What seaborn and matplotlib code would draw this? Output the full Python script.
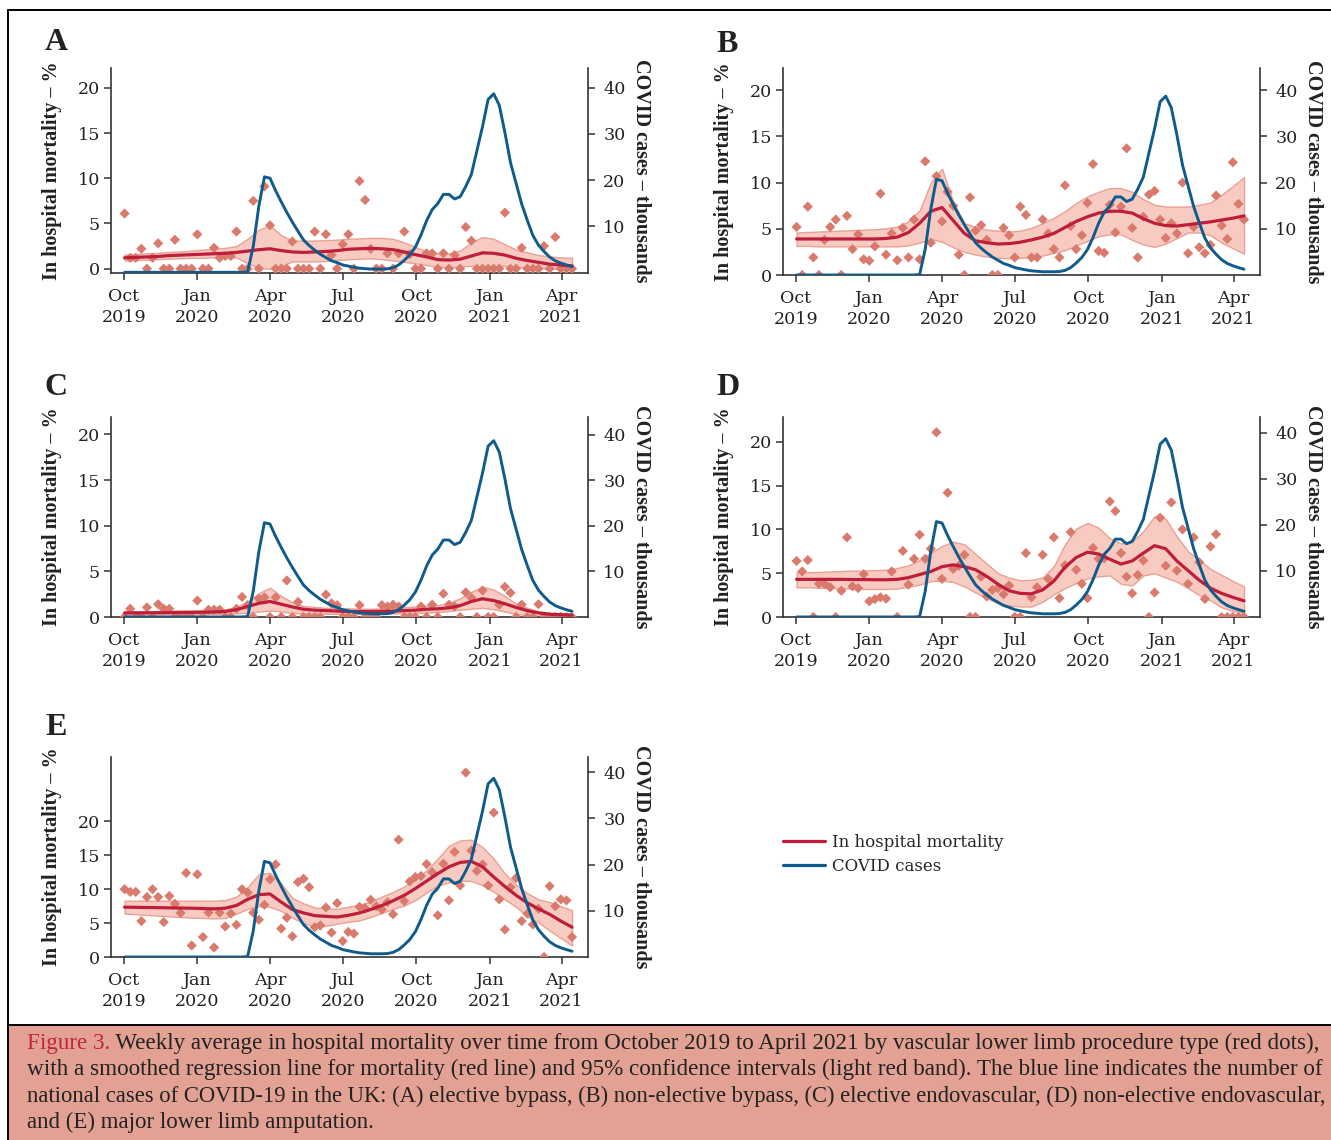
import numpy as np
import pandas as pd
import matplotlib
matplotlib.use("Agg")
import matplotlib.pyplot as plt
import seaborn as sns
from matplotlib.lines import Line2D
from matplotlib.patches import Rectangle

sns.set_theme(style="ticks")
plt.rcParams["font.family"] = ["DejaVu Serif"]

# ---------------- data ----------------
week_dates = pd.date_range("2019-10-02", periods=81, freq="7D")
fit_dates = pd.date_range("2019-10-02", periods=41, freq="14D")

covid_thousands = [0] * 22 + [0.1, 5.6, 14.3, 20.7, 20.4, 17.7, 15.3, 13.0, 10.9, 8.9,
                              7.0, 5.8, 4.8, 3.9, 3.2, 2.5, 2.1, 1.6, 1.35, 1.1,
                              0.9, 0.8, 0.7, 0.7, 0.7, 0.75, 1.0, 1.6, 2.6, 3.8,
                              5.5, 8.1, 11.2, 13.6, 14.9, 16.9, 16.9, 15.9, 16.4, 18.6,
                              21.2, 26.4, 31.6, 37.5, 38.7, 36.2, 30.3, 23.8, 19.3, 14.8,
                              11.3, 8.0, 5.9, 4.5, 3.3, 2.5, 2.0, 1.6, 1.25]

A_points = [6.1, 1.2, 1.2, 2.2, 0, 1.2, 2.8, 0, 0, 3.2,
            0, 0, 0, 3.8, 0, 0, 2.3, 1.2, 1.4, 1.4,
            4.1, 0, 0, 7.5, 0, 9.1, 4.8, 0, 0, 0,
            3.0, 0, 0, 0, 4.1, 0, 3.8, 1.5, 0, 2.7,
            3.8, 0, 9.7, 7.6, 2.2, 0, 0, 1.7, 0, 1.7,
            4.1, 1.6, 0, 0, 1.7, 1.7, 0, 1.7, 0, 1.5,
            0, 4.6, 3.1, 0, 0, 0, 0, 0, 6.2, 0,
            0, 2.3, 0, 0, 0, 2.5, 0, 3.5, 0, 0, 0]
A_fit = [1.2, 1.25, 1.3, 1.35, 1.45, 1.5, 1.55, 1.6, 1.65, 1.7,
         1.8, 1.95, 2.1, 2.2, 2.0, 1.85, 1.8, 1.85, 1.9, 2.0,
         2.15, 2.2, 2.25, 2.2, 2.1, 1.85, 1.55, 1.3, 1.0, 0.95,
         1.05, 1.4, 1.75, 1.7, 1.5, 1.15, 0.9, 0.7, 0.5, 0.4, 0.3]
A_upper = [1.55, 1.6, 1.7, 1.75, 1.85, 1.9, 2.0, 2.1, 2.2, 2.3,
           2.5, 3.3, 4.3, 4.8, 3.7, 3.1, 3.1, 3.1, 3.15, 3.2,
           3.3, 3.35, 3.4, 3.4, 3.3, 2.9, 2.4, 1.9, 1.7, 1.7,
           2.0, 2.9, 3.5, 3.3, 2.7, 2.1, 1.8, 1.5, 1.35, 1.25, 1.2]
A_lower = [0.9, 0.95, 1.0, 1.05, 1.1, 1.15, 1.2, 1.2, 1.25, 1.3,
           1.25, 0.6, 0.1, 0.0, 0.3, 0.8, 0.8, 0.8, 0.85, 0.95,
           1.05, 1.1, 1.15, 1.05, 0.9, 0.75, 0.6, 0.4, 0.2, 0.15,
           0.25, 0.3, 0.25, 0.3, 0.3, 0.2, 0.1, 0.05, 0.0, 0.0, -0.05]

B_points = [5.2, 0, 7.4, 1.9, 0, 3.8, 5.2, 6.0, 0, 6.4,
            2.8, 4.4, 1.7, 1.55, 3.1, 8.8, 2.2, 4.5, 1.6, 5.1,
            1.9, 6.0, 1.7, 12.3, 3.5, 10.7, 5.8, 9.0, 7.5, 2.2,
            0, 8.4, 4.8, 5.4, 3.8, 0, 0, 5.1, 4.3, 1.9,
            7.4, 6.5, 1.9, 1.9, 6.0, 4.5, 2.8, 1.9, 9.7, 5.3,
            2.8, 4.3, 7.8, 12.0, 2.6, 2.4, 7.6, 4.6, 7.4, 13.7,
            5.1, 1.9, 6.3, 8.7, 9.1, 6.0, 4.0, 5.6, 4.5, 10.0,
            2.35, 5.2, 3.0, 2.35, 3.25, 8.6, 5.35, 3.9, 12.2, 7.7, 6.0]
B_fit = [3.9, 3.9, 3.9, 3.9, 3.9, 3.9, 3.9, 3.9, 3.95, 4.1,
         4.6, 5.6, 6.9, 7.3, 5.9, 4.5, 3.7, 3.5, 3.35, 3.4,
         3.55, 3.8, 4.1, 4.5, 5.15, 5.8, 6.3, 6.7, 6.9, 6.9,
         6.7, 6.1, 5.6, 5.35, 5.3, 5.45, 5.6, 5.75, 5.95, 6.15, 6.4]
B_upper = [4.6, 4.65, 4.7, 4.75, 4.8, 4.85, 4.9, 4.95, 5.05, 5.25,
           5.8, 7.0, 10.0, 11.5, 7.9, 5.6, 5.2, 4.9, 4.8, 4.7,
           4.8, 5.1, 5.6, 6.2, 6.9, 7.8, 8.5, 9.0, 9.4, 9.4,
           9.0, 8.2, 7.6, 7.4, 7.4, 7.4, 7.6, 7.85, 8.7, 9.6, 10.6]
B_lower = [3.15, 3.15, 3.1, 3.1, 3.1, 3.1, 3.1, 3.1, 3.1, 3.1,
           3.2, 3.5, 3.9, 3.6, 3.0, 2.5, 2.2, 2.0, 1.85, 1.8,
           1.85, 1.95, 2.1, 2.4, 2.7, 3.2, 3.7, 4.2, 4.4, 4.4,
           3.8, 3.3, 3.05, 3.4, 4.0, 4.6, 4.6, 4.3, 3.5, 2.9, 2.3]

C_points = [0, 0.9, 0, 0, 1.05, 0, 1.4, 0.9, 0.9, 0,
            0, 0, 0, 1.8, 0, 0.8, 0.8, 0.8, 0, 0,
            0.9, 2.2, 1.3, 0, 2.0, 2.15, 0, 2.15, 0, 4.0,
            0, 1.65, 0, 0, 0, 0, 2.45, 1.5, 1.3, 0,
            0, 0, 1.3, 0, 0, 0, 1.3, 1.15, 1.35, 1.15,
            0, 0, 0, 1.15, 0, 1.35, 0, 2.55, 1.35, 1.15,
            0, 2.7, 2.1, 0, 2.9, 0, 0, 1.35, 3.3, 2.65,
            0, 1.35, 0, 0, 1.4, 0, 0, 0, 0, 0, 0]
C_fit = [0.45, 0.45, 0.46, 0.47, 0.48, 0.5, 0.5, 0.52, 0.55, 0.6,
         0.8, 1.15, 1.5, 1.7, 1.4, 1.1, 0.85, 0.75, 0.7, 0.65,
         0.6, 0.6, 0.6, 0.62, 0.65, 0.7, 0.75, 0.85, 0.9, 1.0,
         1.25, 1.7, 2.0, 1.8, 1.45, 1.05, 0.7, 0.45, 0.3, 0.25, 0.2]
C_upper = [0.6, 0.62, 0.64, 0.66, 0.68, 0.7, 0.72, 0.75, 0.78, 0.85,
           1.1, 1.7, 2.6, 3.2, 2.3, 1.6, 1.2, 1.1, 1.0, 0.95,
           0.95, 0.9, 0.9, 0.95, 1.0, 1.05, 1.15, 1.25, 1.3, 1.55,
           2.05, 2.75, 3.3, 3.0, 2.3, 1.45, 1.0, 0.6, 0.45, 0.4, 0.35]
C_lower = [0.25, 0.26, 0.27, 0.28, 0.29, 0.3, 0.31, 0.32, 0.33, 0.35,
           0.4, 0.45, 0.6, 0.7, 0.6, 0.45, 0.4, 0.38, 0.36, 0.35,
           0.35, 0.35, 0.35, 0.38, 0.4, 0.42, 0.45, 0.5, 0.55, 0.65,
           0.8, 0.9, 1.0, 0.85, 0.6, 0.35, 0.2, 0.15, 0.1, 0.05, 0.05]

D_points = [6.4, 5.2, 6.5, 0, 3.8, 3.8, 3.4, 0, 3.0, 9.1,
            3.5, 3.3, 4.9, 1.8, 2.05, 2.25, 2.1, 5.2, 0, 7.55,
            3.7, 6.65, 9.4, 6.65, 7.8, 21.1, 4.35, 14.2, 5.5, 5.85,
            7.1, 0, 0, 4.6, 2.35, 3.1, 3.3, 2.6, 3.6, 0,
            0, 7.3, 2.25, 3.4, 7.1, 4.35, 9.1, 2.15, 5.9, 9.7,
            5.4, 3.8, 2.15, 7.9, 6.65, 6.7, 13.2, 12.1, 7.3, 4.6,
            2.7, 4.8, 6.45, 0, 2.8, 11.35, 5.85, 13.1, 5.3, 10.0,
            3.8, 9.1, 6.25, 2.05, 8.05, 9.45, 0, 0, 0, 0, 0]
D_fit = [4.3, 4.3, 4.3, 4.3, 4.3, 4.28, 4.27, 4.26, 4.25, 4.3,
         4.5, 4.85, 5.2, 5.75, 5.95, 5.75, 5.4, 4.65, 3.75, 3.0,
         2.7, 2.65, 3.1, 4.1, 5.7, 6.8, 7.4, 7.2, 6.6, 6.05,
         6.4, 7.3, 8.15, 7.8, 6.4, 5.3, 4.2, 3.3, 2.7, 2.25, 1.85]
D_upper = [5.1, 5.1, 5.15, 5.2, 5.25, 5.3, 5.3, 5.35, 5.4, 5.6,
           5.9, 6.5, 7.3, 8.1, 8.6, 8.3, 7.2, 6.1, 5.0, 4.5,
           4.2, 4.25, 4.5, 5.8, 8.3, 10.1, 10.75, 10.2, 9.0, 8.4,
           8.6, 9.8, 11.5, 11.2, 9.2, 7.5, 6.5, 5.5, 4.8, 4.1, 3.5]
D_lower = [3.4, 3.4, 3.35, 3.3, 3.3, 3.25, 3.2, 3.2, 3.2, 3.25,
           3.45, 3.7, 4.1, 4.15, 4.0, 3.5, 2.8, 2.15, 1.6, 1.3,
           1.2, 1.2, 1.75, 2.6, 3.3, 3.9, 4.4, 4.65, 4.75, 3.8,
           3.6, 4.75, 5.0, 4.5, 4.05, 3.3, 2.5, 1.9, 1.1, 0.7, 0.45]

E_points = [10.0, 9.6, 9.6, 5.3, 8.85, 10.0, 8.85, 5.15, 9.0, 7.85,
            6.5, 12.4, 1.7, 12.2, 2.95, 6.55, 1.4, 6.55, 4.5, 6.4,
            4.75, 10.0, 9.5, 6.55, 5.5, 7.7, 11.45, 13.65, 4.2, 5.8,
            3.05, 11.05, 11.55, 10.3, 4.4, 4.65, 7.3, 3.6, 7.95, 2.35,
            3.7, 3.45, 7.4, 7.2, 8.45, 7.5, 7.0, 8.1, 6.3, 17.3,
            8.25, 11.15, 11.8, 11.95, 13.7, 12.5, 6.15, 13.75, 8.35, 15.5,
            10.55, 27.2, 15.7, 12.7, 13.65, 10.55, 21.3, 8.5, 4.05, 10.3,
            11.65, 5.3, 6.4, 4.8, 7.1, 0, 10.45, 7.5, 8.5, 8.35, 2.95]
E_fit = [7.35, 7.33, 7.3, 7.28, 7.25, 7.22, 7.2, 7.15, 7.1, 7.2,
         7.6, 8.5, 9.2, 9.3, 8.1, 7.0, 6.5, 6.1, 6.0, 5.9,
         6.15, 6.5, 7.0, 7.6, 8.3, 9.1, 10.1, 11.2, 12.3, 13.3,
         13.95, 14.1, 13.3, 11.8, 10.4, 9.1, 8.0, 7.1, 6.3, 5.3, 4.4]
E_upper = [8.3, 8.3, 8.3, 8.3, 8.3, 8.3, 8.3, 8.3, 8.3, 8.4,
           8.9, 10.3, 12.2, 12.4, 10.8, 8.7, 7.9, 7.3, 7.15, 7.1,
           7.4, 7.7, 8.2, 8.9, 9.6, 10.4, 11.5, 12.8, 14.5, 16.4,
           17.2, 17.3, 16.2, 14.5, 12.3, 10.7, 9.4, 8.5, 8.1, 7.5, 6.9]
E_lower = [6.4, 6.3, 6.2, 6.1, 6.0, 5.9, 5.8, 5.75, 5.7, 5.75,
           6.4, 7.1, 7.5, 7.4, 6.8, 5.8, 5.0, 4.5, 4.6, 4.9,
           5.2, 5.4, 5.9, 6.5, 7.1, 7.6, 8.4, 9.5, 10.55, 11.0,
           11.3, 11.2, 10.6, 9.6, 8.5, 7.4, 6.0, 5.1, 3.9, 2.8, 1.7]

tick_dates = pd.to_datetime(["2019-10-01", "2020-01-01", "2020-04-01", "2020-07-01",
                             "2020-10-01", "2021-01-01", "2021-04-01"])
tick_labels = ["Oct\n2019", "Jan\n2020", "Apr\n2020", "Jul\n2020",
               "Oct\n2020", "Jan\n2021", "Apr\n2021"]
panel_letters = ["A", "B", "C", "D", "E"]
left_label = "In hospital mortality \u2013 %"
right_label = "COVID cases \u2013 thousands"
legend_labels = ["In hospital mortality", "COVID cases"]

caption_head = "Figure 3."
caption_lines = [
    " Weekly average in hospital mortality over time from October 2019 to April 2021 by vascular lower limb procedure type (red dots),",
    "with a smoothed regression line for mortality (red line) and 95% confidence intervals (light red band). The blue line indicates the number of",
    "national cases of COVID-19 in the UK: (A) elective bypass, (B) non-elective bypass, (C) elective endovascular, (D) non-elective endovascular,",
    "and (E) major lower limb amputation.",
]

# ---------------- style ----------------
RED = "#BE1E3A"
BLUE = "#0F5B8C"
PT = "#DA7A6C"
BAND = "#F8CBC2"
BAND_EDGE = "#E9A193"
SPINE = "#333333"
TXT = "#222222"
CAPBG = "#E3A194"
TICK_SIZE = 12.6

W, H = 1331, 1140
fig = plt.figure(figsize=(W / 100, H / 100), dpi=100)


def rect(l, t, r, b):
    return [l / W, 1 - b / H, (r - l) / W, (b - t) / H]


panels = [
    dict(pos=(111, 68, 588, 273), pts=A_points, fit=A_fit, lo=A_lower, hi=A_upper,
         ylim=(-0.48, 22.2), y2lim=(-0.15, 44.3), let=(45, 50)),
    dict(pos=(783, 68, 1260, 275), pts=B_points, fit=B_fit, lo=B_lower, hi=B_upper,
         ylim=(0, 22.4), y2lim=(0, 44.8), let=(716, 52)),
    dict(pos=(111, 417, 588, 617), pts=C_points, fit=C_fit, lo=C_lower, hi=C_upper,
         ylim=(0, 21.9), y2lim=(0, 43.9), let=(45, 395)),
    dict(pos=(783, 417, 1260, 617), pts=D_points, fit=D_fit, lo=D_lower, hi=D_upper,
         ylim=(0, 22.85), y2lim=(0, 43.4), let=(716, 395)),
    dict(pos=(111, 757, 588, 957), pts=E_points, fit=E_fit, lo=E_lower, hi=E_upper,
         ylim=(0, 29.5), y2lim=(0, 43.3), let=(45, 735)),
]

xlim = (pd.Timestamp("2019-09-15"), pd.Timestamp("2021-05-04"))

for letter, p in zip(panel_letters, panels):
    ax = fig.add_axes(rect(*p["pos"]))
    ax.fill_between(fit_dates, p["lo"], p["hi"], facecolor=BAND, edgecolor=BAND_EDGE,
                    linewidth=1.0, zorder=1)
    sns.scatterplot(x=week_dates, y=p["pts"], marker="D", s=27, color=PT,
                    edgecolor="none", linewidth=0, ax=ax, zorder=3)
    sns.lineplot(x=fit_dates, y=p["fit"], color=RED, linewidth=2.3, ax=ax, zorder=4)
    ax.set_xlim(*xlim)
    ax.set_ylim(*p["ylim"])
    ax.set_yticks([0, 5, 10, 15, 20])
    ax.set_xticks(tick_dates)
    ax.set_xticklabels(tick_labels)
    for lbl in ax.get_xticklabels():
        lbl.set_linespacing(1.3)
    ax.set_xlabel("")
    ax.set_ylabel(left_label, fontfamily="Liberation Serif", fontweight="bold",
                  fontsize=14.5, color=TXT, va="center", ha="center")
    ax.yaxis.set_label_coords(-0.124, 0.5)
    ax.tick_params(axis="both", direction="out", length=5, width=1.1, color=SPINE,
                   labelsize=TICK_SIZE, labelcolor=TXT)
    ax.tick_params(axis="x", pad=6)
    ax.tick_params(axis="y", pad=3)
    for s in ["top", "right"]:
        ax.spines[s].set_visible(False)
    for s in ["left", "bottom"]:
        ax.spines[s].set_color(SPINE)
        ax.spines[s].set_linewidth(1.2)

    ax2 = ax.twinx()
    sns.lineplot(x=week_dates, y=covid_thousands, color=BLUE, linewidth=2.1, ax=ax2)
    ax2.set_xlim(*xlim)
    ax2.set_ylim(*p["y2lim"])
    ax2.set_yticks([10, 20, 30, 40])
    ax2.set_ylabel(right_label, fontfamily="Liberation Serif", fontweight="bold",
                   fontsize=14.5, color=TXT, rotation=-90, va="center", ha="center")
    ax2.yaxis.set_label_coords(1.111, 0.5)
    ax2.tick_params(axis="y", direction="out", length=5, width=1.1, color=SPINE,
                    labelsize=TICK_SIZE, labelcolor=TXT, pad=6)
    for s in ["top", "left", "bottom"]:
        ax2.spines[s].set_visible(False)
    ax2.spines["right"].set_color(SPINE)
    ax2.spines["right"].set_linewidth(1.2)

    lx, ly = p["let"]
    fig.text(lx / W, 1 - ly / H, letter, fontfamily="Liberation Serif", fontweight="bold",
             fontsize=23, color=TXT, ha="left", va="baseline")

# legend
handles = [Line2D([], [], color=RED, lw=2.3), Line2D([], [], color=BLUE, lw=2.3)]
fig.legend(handles, legend_labels, loc="upper left", bbox_to_anchor=(783 / W, 1 - 834 / H),
           frameon=False, borderpad=0, borderaxespad=0, handlelength=2.5,
           handletextpad=0.45, labelspacing=0.42, prop={"family": "DejaVu Serif", "size": 12})

# frame & caption box
fig.add_artist(Rectangle((8 / W, 0), (W - 8) / W, (H - 1026) / H, transform=fig.transFigure,
                         facecolor=CAPBG, edgecolor="none", zorder=0))
for (x0, y0, x1, y1) in [(8, 10, W, 10), (8, 10, 8, H), (8, 1025, W, 1025)]:
    fig.add_artist(Line2D([x0 / W, x1 / W], [1 - y0 / H, 1 - y1 / H], transform=fig.transFigure,
                          color="black", lw=1.4))

# caption: lines 1-3 sized to span the full width (justified look), last line at mean size
base = 15.2
x_left, x_right = 27, 1325
baselines = [1049, 1075, 1102, 1128]
fig.canvas.draw()
r = fig.canvas.get_renderer()


def cap_text(x, yb, s, size, color):
    return fig.text(x / W, 1 - yb / H, s, fontfamily="Liberation Serif", fontsize=size,
                    va="baseline", ha="left", color=color)


probe_h = cap_text(0, -100, caption_head, base, TXT)
probe_1 = cap_text(0, -100, caption_lines[0], base, TXT)
w_head = probe_h.get_window_extent(renderer=r).width
w_first = probe_1.get_window_extent(renderer=r).width
probe_h.remove()
probe_1.remove()
size1 = base * (x_right - x_left) / (w_head + w_first)
head = cap_text(x_left, baselines[0], caption_head, size1, "#C0263C")
bb = head.get_window_extent(renderer=r)
cap_text(bb.x1, baselines[0], caption_lines[0], size1, TXT)

sizes = []
for line in caption_lines[1:3]:
    pr = cap_text(0, -100, line, base, TXT)
    w = pr.get_window_extent(renderer=r).width
    pr.remove()
    sizes.append(base * (x_right - x_left) / w)
mean_size = float(np.mean([size1] + sizes))
for line, yb, sz in zip(caption_lines[1:3], baselines[1:3], sizes):
    cap_text(x_left, yb, line, sz, TXT)
cap_text(x_left, baselines[3], caption_lines[3], mean_size, TXT)

fig.savefig("out.png", dpi=100)
